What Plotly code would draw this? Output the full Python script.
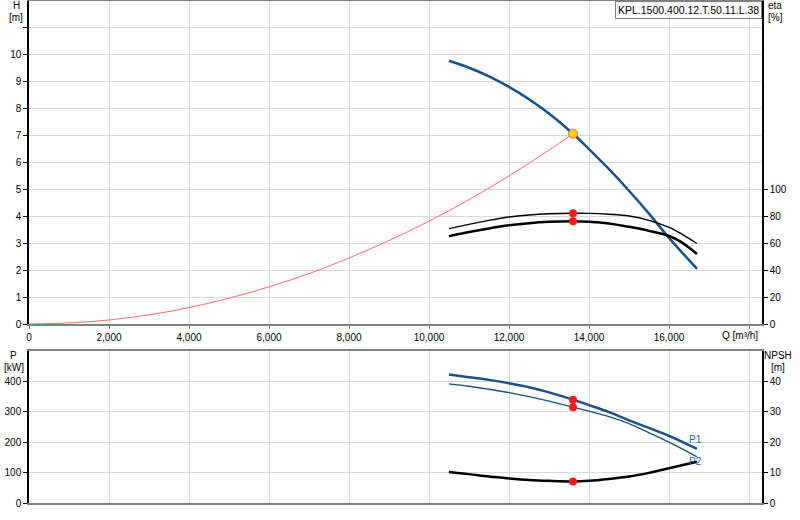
import plotly.graph_objects as go

# pump curve data
q_head = [10500, 11000, 11500, 12000, 12500, 13000, 13600, 14000, 14500, 15000, 15500, 16000, 16700]
head = [9.78, 9.52, 9.2, 8.81, 8.35, 7.82, 7.07, 6.5, 5.75, 4.95, 4.1, 3.2, 2.05]

q_sys = [0, 1000, 2000, 3000, 4000, 5000, 6000, 7000, 8000, 9000, 10000, 11000, 12000, 13000, 13600]
h_sys = [0, 0.04, 0.15, 0.34, 0.61, 0.96, 1.38, 1.87, 2.45, 3.1, 3.82, 4.62, 5.5, 6.46, 7.07]

q_eta1 = [10500, 11000, 11500, 12000, 12500, 13000, 13600, 14000, 14500, 15000, 15500, 16000, 16300, 16700]
eta1 = [70.9, 74.0, 77.0, 79.5, 81.0, 81.9, 82.3, 82.2, 81.5, 80.2, 77.0, 71.8, 67.2, 59.8]
q_eta2 = [10500, 11000, 11500, 12000, 12500, 13000, 13600, 14000, 14500, 15000, 15500, 16000, 16300, 16700]
eta2 = [65.2, 68.3, 71.0, 73.3, 74.9, 75.9, 76.3, 76.0, 74.7, 72.2, 69.2, 65.4, 61.0, 52.0]

q_pow = [10500, 11000, 11500, 12000, 12500, 13000, 13600, 14000, 14500, 15000, 15500, 16000, 16700]
p1 = [423, 414, 405, 394, 381, 364, 340, 322, 299, 272, 247, 221, 178]
p2 = [392, 384, 374, 363, 350, 335, 315, 302, 284, 261, 231, 200, 152]
npsh = [10.2, 9.5, 8.7, 8.1, 7.6, 7.3, 7.1, 7.3, 7.9, 8.7, 9.9, 11.4, 13.6]

# duty point
q_op = 13600
h_op = 7.07
eta1_op = 82.3
eta2_op = 76.3
p1_op = 340
p2_op = 315
npsh_op = 7.1

q_ticks = [0, 2000, 4000, 6000, 8000, 10000, 12000, 14000, 16000, 18000]
q_labels = ["0", "2,000", "4,000", "6,000", "8,000", "10,000", "12,000", "14,000", "16,000", ""]
h_ticks = list(range(0, 12))
h_labels = [str(v) for v in range(0, 11)] + [""]
eta_ticks = [0, 20, 40, 60, 80, 100]
p_ticks = [0, 100, 200, 300, 400]
npsh_ticks = [0, 10, 20, 30, 40]

W, H = 800, 520
ML, MR, MT, MB = 29, 38, 1, 17
PW = W - ML - MR
PH = H - MT - MB


def px(x):
    return (x - ML) / PW


def py(y):
    return (H - MB - y) / PH


FONT = "Liberation Sans, Arial, sans-serif"
BLUE = "#1b4f8a"
GRID = "#d9d9d9"

fig = go.Figure()

fig.add_trace(go.Scatter(x=q_sys, y=h_sys, mode="lines", line=dict(color="#ff6a6a", width=1, shape="spline"),
                         xaxis="x", yaxis="y"))
fig.add_trace(go.Scatter(x=q_head, y=head, mode="lines", line=dict(color=BLUE, width=2.5, shape="spline"),
                         xaxis="x", yaxis="y"))
fig.add_trace(go.Scatter(x=q_eta1, y=eta1, mode="lines", line=dict(color="black", width=1.4, shape="spline"),
                         xaxis="x", yaxis="y2"))
fig.add_trace(go.Scatter(x=q_eta2, y=eta2, mode="lines", line=dict(color="black", width=2.5, shape="spline"),
                         xaxis="x", yaxis="y2"))
fig.add_trace(go.Scatter(x=[q_op, q_op], y=[eta1_op, eta2_op], mode="markers",
                         marker=dict(color="#ff1a1a", size=8), xaxis="x", yaxis="y2"))
fig.add_trace(go.Scatter(x=[q_op], y=[h_op], mode="markers",
                         marker=dict(color="#ffd21a", size=9, line=dict(color="#ff6a3a", width=1)),
                         xaxis="x", yaxis="y"))

fig.add_trace(go.Scatter(x=q_pow, y=p1, mode="lines", line=dict(color=BLUE, width=2.5, shape="spline"),
                         xaxis="x2", yaxis="y3"))
fig.add_trace(go.Scatter(x=q_pow, y=p2, mode="lines", line=dict(color=BLUE, width=1.4, shape="spline"),
                         xaxis="x2", yaxis="y3"))
fig.add_trace(go.Scatter(x=q_pow, y=npsh, mode="lines", line=dict(color="black", width=2.5, shape="spline"),
                         xaxis="x2", yaxis="y4"))
fig.add_trace(go.Scatter(x=[q_op, q_op], y=[p1_op, p2_op], mode="markers",
                         marker=dict(color="#ff1a1a", size=8), xaxis="x2", yaxis="y3"))
fig.add_trace(go.Scatter(x=[q_op], y=[npsh_op], mode="markers",
                         marker=dict(color="#ff1a1a", size=8), xaxis="x2", yaxis="y4"))

top_dom = [py(324), 1]
bot_dom = [0, py(351)]
tickfont = dict(family=FONT, size=10, color="black")

xcommon = dict(range=[0, 18325], tickvals=q_ticks, showgrid=True, gridcolor=GRID, gridwidth=1,
               showline=True, linecolor="#808080", linewidth=2, mirror=True, zeroline=False,
               ticks="outside", ticklen=3, tickcolor="#808080", tickfont=tickfont, automargin=False)
ycommon = dict(zeroline=False, showline=True, linecolor="black", linewidth=1.5,
               ticks="outside", ticklen=4, tickcolor="black", tickfont=tickfont, automargin=False)

fig.update_layout(
    width=W, height=H,
    margin=dict(l=ML, r=MR, t=MT, b=MB),
    paper_bgcolor="white", plot_bgcolor="white",
    showlegend=False,
    xaxis=dict(xcommon, anchor="y", ticktext=q_labels),
    xaxis2=dict(xcommon, anchor="y3", matches="x", showticklabels=False, ticks=""),
    yaxis=dict(ycommon, domain=top_dom, range=[0, 12], tickvals=h_ticks, ticktext=h_labels,
               showgrid=True, gridcolor=GRID),
    yaxis2=dict(ycommon, overlaying="y", side="right", anchor="x", range=[0, 240], tickvals=eta_ticks,
                showgrid=False),
    yaxis3=dict(ycommon, domain=bot_dom, anchor="x2", range=[0, 500], tickvals=p_ticks,
                showgrid=True, gridcolor=GRID),
    yaxis4=dict(ycommon, overlaying="y3", side="right", anchor="x2", range=[0, 50], tickvals=npsh_ticks,
                showgrid=False),
)

labels = [
    ("H", 16, 6), ("[m]", 16, 18),
    ("eta", 775, 6), ("[%]", 775, 18),
    ("Q [m³/h]", 740, 335),
    ("P", 14, 355), ("[kW]", 14, 367),
    ("NPSH", 778, 355), ("[m]", 778, 367),
]
for text, x, y in labels:
    fig.add_annotation(text=text, x=px(x), y=py(y), xref="paper", yref="paper", showarrow=False,
                       xanchor="center", yanchor="middle", font=dict(family=FONT, size=10, color="black"))

for text, x, y in [("P1", 695, 439), ("P2", 695, 461)]:
    fig.add_annotation(text=text, x=px(x), y=py(y), xref="paper", yref="paper", showarrow=False,
                       xanchor="center", yanchor="middle", font=dict(family=FONT, size=10, color="#2060a8"))

fig.add_annotation(text="KPL.1500.400.12.T.50.11.L.38", x=1, y=1, xref="paper", yref="paper",
                   xanchor="right", yanchor="top", showarrow=False, bgcolor="white",
                   bordercolor="#808080", borderwidth=1, borderpad=2,
                   font=dict(family=FONT, size=10.5, color="black"))

# browser default body margin would shift the figure by 8px
fig.write_html("out.html", config={"displayModeBar": False},
               post_script="document.body.style.margin='0';")
